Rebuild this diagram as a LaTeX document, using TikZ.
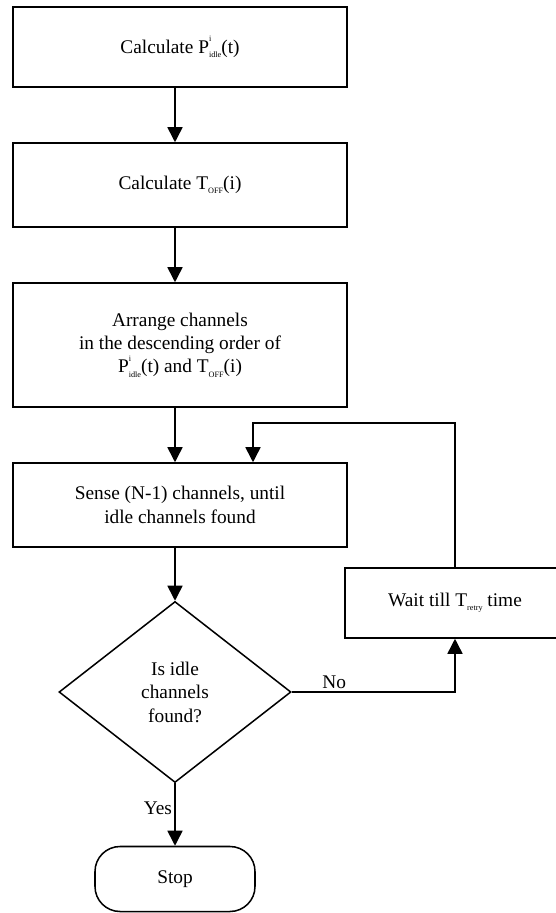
\documentclass[tikz,border=0pt]{standalone}
\usepackage{fontspec}
\setmainfont{Liberation Serif}
\usetikzlibrary{positioning,arrows.meta,shapes.geometric}
\newcommand{\tinyidx}[1]{{\fontsize{7}{7}\selectfont #1}}
\newcommand{\supsub}[2]{\rlap{\raisebox{0.6em}{\tinyidx{#1}}}\raisebox{-0.22em}{\tinyidx{#2}}}
\newcommand{\sbs}[1]{\raisebox{-0.22em}{\tinyidx{#1}}}
\tikzset{
  >={Triangle[length=4.5mm,width=4.5mm]},
  procbox/.style={draw,line width=1.3pt,minimum width=10.02cm,inner sep=3pt,
    align=center,font=\fontsize{16.5}{20}\selectfont},
  decbox/.style={diamond,draw,line width=1.3pt,minimum width=6.96cm,
    minimum height=5.43cm,inner sep=0pt,align=center,
    font=\fontsize{16.5}{20}\selectfont},
  termbox/.style={draw,line width=1.3pt,rounded corners=0.75cm,
    minimum width=4.8cm,minimum height=1.95cm,font=\fontsize{16.5}{20}\selectfont},
  flow/.style={->,line width=1.3pt},
  flowlbl/.style={font=\fontsize{16.5}{20}\selectfont,inner sep=2pt},
}
\begin{document}
\begin{tikzpicture}[x=0.03cm,y=-0.03cm]
  \useasboundingbox (0,0) rectangle (556,913);
  % main column
  \node[procbox,minimum height=2.4cm] (calcP) at (180,47)
    {Calculate P\supsub{i}{idle}(t)};
  \node[procbox,minimum height=2.52cm] (calcT) at (180,185)
    {Calculate T\sbs{OFF}(i)};
  \node[procbox,minimum height=3.72cm] (arrange) at (180,345)
    {Arrange channels\\in the descending order of\\P\supsub{i}{idle}(t) and T\sbs{OFF}(i)};
  \node[procbox,minimum height=2.52cm] (sense) at (180,505)
    {Sense (N-1) channels, until\\idle channels found};
  \node[decbox] (decide) at (175,692) {Is idle\\channels\\found?};
  \node[termbox] (stop) at (175,879) {Stop};
  % retry branch
  \node[procbox,minimum width=6.6cm,minimum height=2.1cm] (wait) at (455,603)
    {Wait till T\sbs{retry} time};
  \coordinate (loop) at (253,423);
  % connectors
  \draw[flow] (calcP.south -| decide) -- (calcT.north -| decide);
  \draw[flow] (calcT.south -| decide) -- (arrange.north -| decide);
  \draw[flow] (arrange.south -| decide) -- (sense.north -| decide);
  \draw[flow] (sense.south -| decide) -- (decide.north);
  \draw[flow] (decide.south) -- node[flowlbl,left,pos=0.4] {Yes} (stop.north);
  \draw[flow] (decide.east) -| node[flowlbl,above,pos=0.13] {No} (wait.south);
  \draw[flow] (wait.north) |- (loop) -- (sense.north -| loop);
\end{tikzpicture}
\end{document}
